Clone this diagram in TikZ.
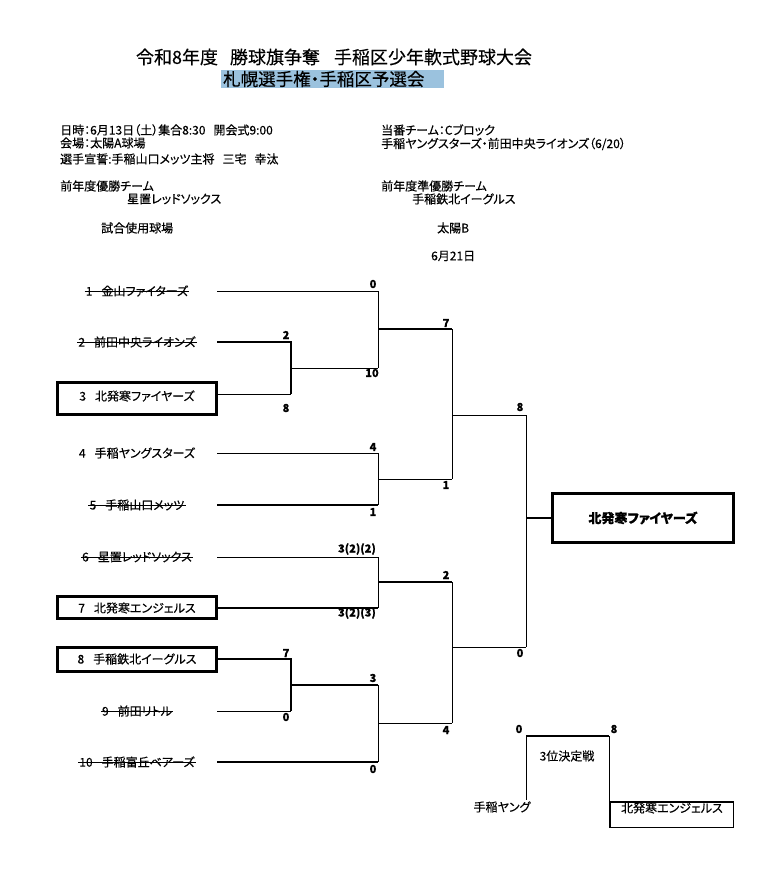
\documentclass[tikz,border=0pt]{standalone}
\usepackage{fontspec}
\setmainfont{Noto Sans CJK JP}[RawFeature=+palt,FakeBold=0.35]
\definecolor{hl}{RGB}{155,194,222}
\begin{document}
\begin{tikzpicture}[x=1pt,y=-1pt,
  info/.style={anchor=west,inner sep=0pt,font=\fontsize{12}{14}\selectfont},
  team/.style={inner sep=0pt,font=\fontsize{12}{14}\selectfont},
  score/.style={inner sep=0pt,font=\fontsize{11}{13}\selectfont\bfseries},
  thinln/.style={line width=1pt},
  thkln/.style={line width=2.2pt},
  strike/.style={line width=0.9pt},
  tbox/.style={draw,line width=3pt,inner sep=0pt,minimum width=159pt}]
\useasboundingbox (0,0) rectangle (780,877);
% header
\node[inner sep=0pt,font=\fontsize{18}{20}\selectfont] (title) at (334,57) {令和8年度\hspace{12pt}勝球旗争奪\hspace{14pt}手稲区少年軟式野球大会};
\node[fill=hl,inner sep=0pt,minimum width=223pt,minimum height=18pt] (hlbox) at (332.5,79) {};
\node[anchor=west,inner sep=0pt,font=\fontsize{17.5}{19}\selectfont] (sub) at (223,79) {札幌選手権・手稲区予選会};
% info left
\node[info] (i1) at (60,130) {日時：6月13日（土）集合8:30\hspace{8pt}開会式9:00};
\node[info] (i2) at (60,143) {会場：太陽A球場};
\node[info] (i3) at (60,159) {選手宣誓:手稲山口メッツ主将\hspace{8pt}三宅\hspace{8pt}幸汰};
\node[info] (i4) at (60,186) {前年度優勝チーム};
\node[info] (i5) at (127,199) {星置レッドソックス};
\node[info] (i6) at (101,228) {試合使用球場};
% info right
\node[info] (j1) at (381,130) {当番チーム：Cブロック};
\node[info] (j2) at (381,144) {手稲ヤングスターズ・前田中央ライオンズ（6/20）};
\node[info] (j3) at (381,186) {前年度準優勝チーム};
\node[info] (j4) at (412,199) {手稲鉄北イーグルス};
\node[info] (j5) at (437,228) {太陽B};
\node[info] (j6) at (431,256) {6月21日};
% boxes
\node[tbox,minimum height=32pt] (B3) at (137,398.5) {};
\node[tbox,minimum height=22pt] (B7) at (137,607.5) {};
\node[tbox,minimum height=24pt] (B8) at (137,659.5) {};
% team labels
\node[team] (L1) at (137,291) {1\hspace{9pt}金山ファイターズ};
\node[team] (L2) at (137,342) {2\hspace{9pt}前田中央ライオンズ};
\node[team] (L3) at (137,396) {3\hspace{9pt}北発寒ファイヤーズ};
\node[team] (L4) at (137,453) {4\hspace{9pt}手稲ヤングスターズ};
\node[team] (L5) at (137,505) {5\hspace{9pt}手稲山口メッツ};
\node[team] (L6) at (137,557) {6\hspace{9pt}星置レッドソックス};
\node[team] (L7) at (137,608) {7\hspace{9pt}北発寒エンジェルス};
\node[team] (L8) at (137,659) {8\hspace{9pt}手稲鉄北イーグルス};
\node[team] (L9) at (137,711) {9\hspace{9pt}前田リトル};
\node[team] (L10) at (137,762) {10\hspace{9pt}手稲富丘ベアーズ};
\foreach \n in {1,2,5,6,9,10}{
  \draw[strike] ([xshift=-1pt]L\n.west) -- ([xshift=1pt]L\n.east);
}
% coordinates
\coordinate (cA) at (291,0);
\coordinate (cB) at (378,0);
\coordinate (cC) at (452,0);
\coordinate (cD) at (526,0);
\coordinate (e1) at (217,291);
\coordinate (e2) at (217,342);
\coordinate (e3) at (217,394);
\coordinate (e4) at (217,453);
\coordinate (e5) at (217,505);
\coordinate (e6) at (217,557);
\coordinate (e7) at (217,608);
\coordinate (e8) at (217,659);
\coordinate (e9) at (217,711);
\coordinate (e10) at (217,762);
\coordinate (m23) at (291,368);
\coordinate (m12) at (378,329);
\coordinate (m45) at (378,479);
\coordinate (mU) at (452,415);
\coordinate (m67) at (378,582);
\coordinate (m89) at (291,685);
\coordinate (m810) at (378,723);
\coordinate (mL) at (452,647);
\coordinate (mF) at (526,518);
% champion box
\node[draw,line width=3pt,minimum width=181pt,minimum height=49pt,inner sep=0pt,font=\fontsize{13}{15}\selectfont\bfseries] (champ) at (643,518) {北発寒ファイヤーズ};
% upper half
\draw[thinln] (e1) -- (e1 -| cB) -- (m23 -| cB);
\draw[thkln] (e2) -- (e2 -| cA) -- (e3 -| cA);
\draw[thinln] (e3) -- (e3 -| cA);
\draw[thinln] (m23) -- (m23 -| cB);
\draw[thkln] (m12) -- (m12 -| cC);
\draw[thinln] (e4) -- (e4 -| cB) -- (e5 -| cB);
\draw[thkln] (e5) -- (e5 -| cB);
\draw[thinln] (m45) -- (m45 -| cC);
\draw[thinln] (m12 -| cC) -- (m45 -| cC);
\draw[thinln] (mU) -- (mU -| cD);
% lower half
\draw[thinln] (e6) -- (e6 -| cB) -- (e7 -| cB);
\draw[thkln] (e7) -- (e7 -| cB);
\draw[thkln] (m67) -- (m67 -| cC);
\draw[thkln] (e8) -- (e8 -| cA) -- (e9 -| cA);
\draw[thinln] (e9) -- (e9 -| cA);
\draw[thkln] (m89) -- (m89 -| cB);
\draw[thkln] (e10) -- (e10 -| cB);
\draw[thinln] (m89 -| cB) -- (e10 -| cB);
\draw[thinln] (m810) -- (m810 -| cC);
\draw[thinln] (m67 -| cC) -- (m810 -| cC);
\draw[thinln] (mL) -- (mL -| cD);
% final
\draw[thinln] (mU -| cD) -- (mL -| cD);
\draw[thkln] (mF) -- (champ.west);
% scores
\node[score] (s1) at (373,284) {0};
\node[score] (s2) at (286,335) {2};
\node[score] (s3) at (286,408) {8};
\node[score] (s4) at (372,373) {10};
\node[score] (s5) at (446,323) {7};
\node[score] (s6) at (373,447) {4};
\node[score] (s7) at (373,512) {1};
\node[score] (s8) at (446,485) {1};
\node[score] (s9) at (520,407) {8};
\node[score,anchor=east] (s10) at (376,549) {3(2)(2)};
\node[score,anchor=east] (s11) at (376,613) {3(2)(3)};
\node[score] (s12) at (446,575) {2};
\node[score] (s13) at (286,653) {7};
\node[score] (s14) at (286,717) {0};
\node[score] (s15) at (373,678) {3};
\node[score] (s16) at (373,769) {0};
\node[score] (s17) at (446,730) {4};
\node[score] (s18) at (520,653) {0};
% third place
\node[draw,line width=1.5pt,minimum width=123.5pt,minimum height=25.5pt,inner sep=0pt] (B3rd) at (671.5,814.5) {};
\node[team] (w3) at (672,808) {北発寒エンジェルス};
\node[team] (y3) at (502,807) {手稲ヤング};
\node[team] (k3) at (567,756) {3位決定戦};
\coordinate (p1) at (526,736);
\coordinate (p2) at (609,736);
\coordinate (p3) at (526,800);
\draw[line width=1.7pt] (p1) -- (p2);
\draw[thinln] (p1) -- (p3);
\draw[thinln] (p2) -- (p2 |- B3rd.north);
\node[score] (s19) at (519,729) {0};
\node[score] (s20) at (614,729) {8};
\end{tikzpicture}
\end{document}
